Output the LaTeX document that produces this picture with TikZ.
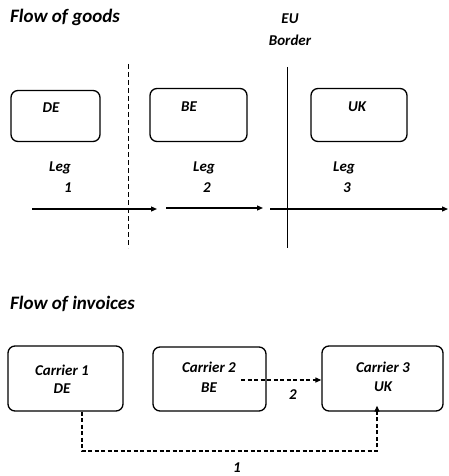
\documentclass[tikz,border=0pt]{standalone}
\usepackage{fontspec}
\setmainfont{Carlito}
\usetikzlibrary{arrows.meta}
\begin{document}
\begin{tikzpicture}[x=1pt,y=-1pt,
  txt/.style={font=\bfseries\itshape\fontsize{15}{17}\selectfont, inner sep=0pt},
  ttl/.style={font=\bfseries\itshape\fontsize{19}{21}\selectfont, inner sep=0pt, anchor=west},
  cbox/.style={draw, rounded corners=7pt, line width=1.3pt, inner sep=0pt},
  arr/.style={line width=1.2pt, -{Triangle[length=6pt,width=5pt]}},
  darr/.style={line width=1.2pt, dash pattern=on 4pt off 2.5pt, -{Triangle[length=6pt,width=5pt]}}]
\useasboundingbox (0,0) rectangle (448,476);
% titles
\node[ttl] (t1) at (10,17) {Flow of goods};
\node[ttl] (t2) at (10,304) {Flow of invoices};
\node[txt] (eu) at (290,19) {EU};
\node[txt] (bd) at (290,40) {Border};
% separator lines
\coordinate (d1) at (128,64);
\coordinate (d2) at (128,248);
\draw[line width=0.8pt, dash pattern=on 5pt off 3pt] (d1) -- (d2);
\coordinate (s1) at (287,67);
\coordinate (s2) at (287,248);
\draw[line width=0.8pt] (s1) -- (s2);
% top boxes
\node[cbox, minimum width=89pt, minimum height=51pt] (de) at (55.5,116) {};
\node[cbox, minimum width=97pt, minimum height=53pt] (be) at (198.5,115) {};
\node[cbox, minimum width=96pt, minimum height=53pt] (uk) at (359,115) {};
\node[txt] at (51,108) {DE};
\node[txt] at (189,107) {BE};
\node[txt] at (357,107) {UK};
% legs
\node[txt] (l1) at (60,168) {Leg};
\node[txt] (n1) at (68,188) {1};
\node[txt] (l2) at (204,168) {Leg};
\node[txt] (n2) at (207,188) {2};
\node[txt] (l3) at (344,168) {Leg};
\node[txt] (n3) at (347,188) {3};
\coordinate (a1s) at (32,209); \coordinate (a1e) at (157,209);
\coordinate (a2s) at (166,208); \coordinate (a2e) at (263,208);
\coordinate (a3s) at (270,209); \coordinate (a3e) at (448,209);
\draw[arr] (a1s) -- (a1e);
\draw[arr] (a2s) -- (a2e);
\draw[arr] (a3s) -- (a3e);
% bottom boxes
\node[cbox, minimum width=115pt, minimum height=65pt] (c1) at (65.5,378.5) {};
\node[cbox, minimum width=113pt, minimum height=64pt] (c2) at (209.5,379) {};
\node[cbox, minimum width=121pt, minimum height=65pt] (c3) at (382.5,378.5) {};
\node[txt] at (62,370) {Carrier 1};
\node[txt] at (62,389) {DE};
\node[txt] at (209,367) {Carrier 2};
\node[txt] at (209,388) {BE};
\node[txt] at (383,367) {Carrier 3};
\node[txt] at (383,387) {UK};
% invoice arrows
\coordinate (i2s) at (241,380);
\draw[darr] (i2s) -- (c3.west |- i2s);
\node[txt] (lb2) at (293,395) {2};
\draw[darr] (c1.south -| 82,0) -- (82,451) -- (377,451) -- ([yshift=6pt]c3.south -| 377,0);
\node[txt] (lb1) at (237,468) {1};
\end{tikzpicture}
\end{document}
